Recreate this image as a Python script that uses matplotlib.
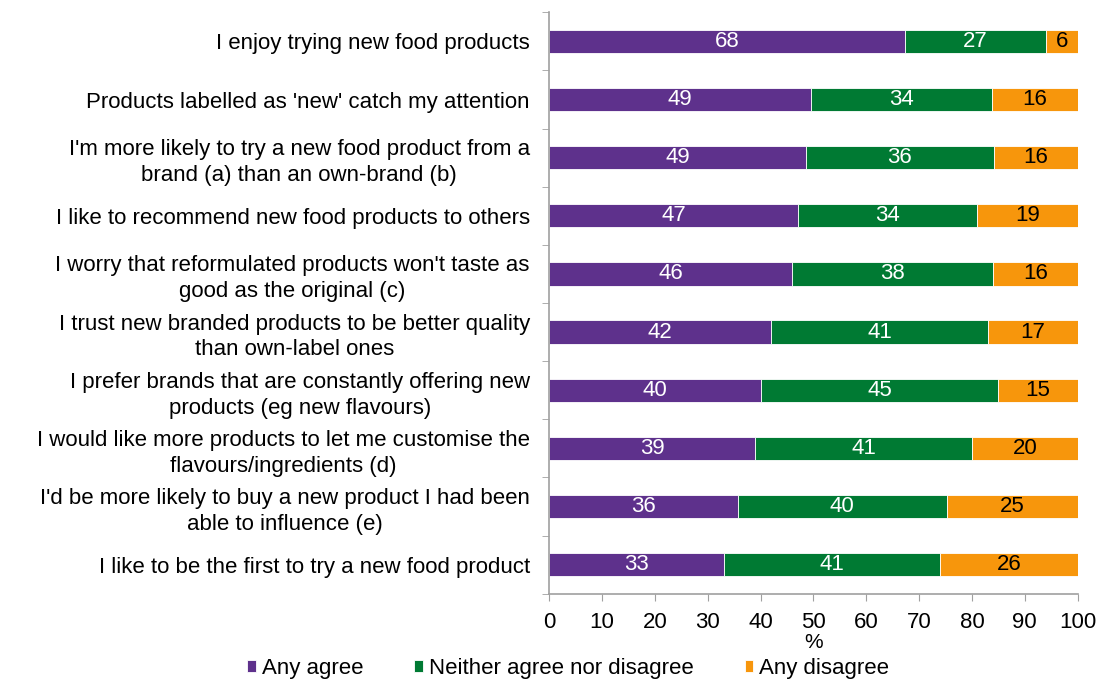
import matplotlib
matplotlib.use("Agg")
import matplotlib.pyplot as plt
import numpy as np

plt.rcParams['font.family'] = ['Liberation Sans', 'DejaVu Sans']

categories = [
    "I enjoy trying new food products",
    "Products labelled as 'new' catch my attention",
    "I'm more likely to try a new food product from a\nbrand (a) than an own-brand (b)",
    "I like to recommend new food products to others",
    "I worry that reformulated products won't taste as\ngood as the original (c)",
    "I trust new branded products to be better quality\nthan own-label ones",
    "I prefer brands that are constantly offering new\nproducts (eg new flavours)",
    "I would like more products to let me customise the\nflavours/ingredients (d)",
    "I'd be more likely to buy a new product I had been\nable to influence (e)",
    "I like to be the first to try a new food product",
]
any_agree = [68, 49, 49, 47, 46, 42, 40, 39, 36, 33]
neither = [27, 34, 36, 34, 38, 41, 45, 41, 40, 41]
any_disagree = [6, 16, 16, 19, 16, 17, 15, 20, 25, 26]
series_names = ["Any agree", "Neither agree nor disagree", "Any disagree"]
colors = ["#5E318C", "#007A33", "#F7960C"]
text_colors = ["white", "white", "black"]

vals = np.array([any_agree, neither, any_disagree], dtype=float)
shares = vals / vals.sum(axis=0) * 100

FS = 16

fig = plt.figure(figsize=(11.03, 6.84), dpi=100)
ax = fig.add_axes([0.498, 0.132, 0.479, 0.85])

y = np.arange(len(categories))
left = np.zeros(len(categories))
for i in range(3):
    bars = ax.barh(y, shares[i], left=left, height=0.4, color=colors[i],
                   edgecolor='white', linewidth=0.6, label=series_names[i])
    for j, b in enumerate(bars):
        ax.text(left[j] + shares[i][j] / 2, y[j], f"{int(vals[i][j])}",
                ha='center', va='center', color=text_colors[i], fontsize=FS)
    left += shares[i]

ax.set_xlim(0, 100)
ax.set_ylim(len(categories) - 0.5, -0.5)
ax.set_yticks(y)
ax.set_yticklabels(categories, fontsize=FS, linespacing=1.3)
for lab in ax.get_yticklabels():
    lab.set_multialignment('center')
ax.set_yticks(np.arange(-0.5, len(categories) + 0.5, 1), minor=True)
ax.tick_params(axis='y', which='major', length=0, pad=14)
ax.tick_params(axis='y', which='minor', length=5, color='#A0A0A0', direction='out')
ax.set_xticks(np.arange(0, 101, 10))
ax.tick_params(axis='x', length=5, color='#A0A0A0', direction='out', labelsize=FS, pad=8)
ax.set_xlabel('%', fontsize=FS - 1, labelpad=0)

for s in ['top', 'right']:
    ax.spines[s].set_visible(False)
for s in ['left', 'bottom']:
    ax.spines[s].set_color('#A0A0A0')
    ax.spines[s].set_linewidth(1.2)

fig.legend(loc='lower center', bbox_to_anchor=(0.515, -0.022), ncol=3, frameon=False,
           fontsize=FS, handlelength=0.4, handleheight=0.4, handletextpad=0.25,
           columnspacing=2.3)

fig.savefig("out.png", dpi=100)
